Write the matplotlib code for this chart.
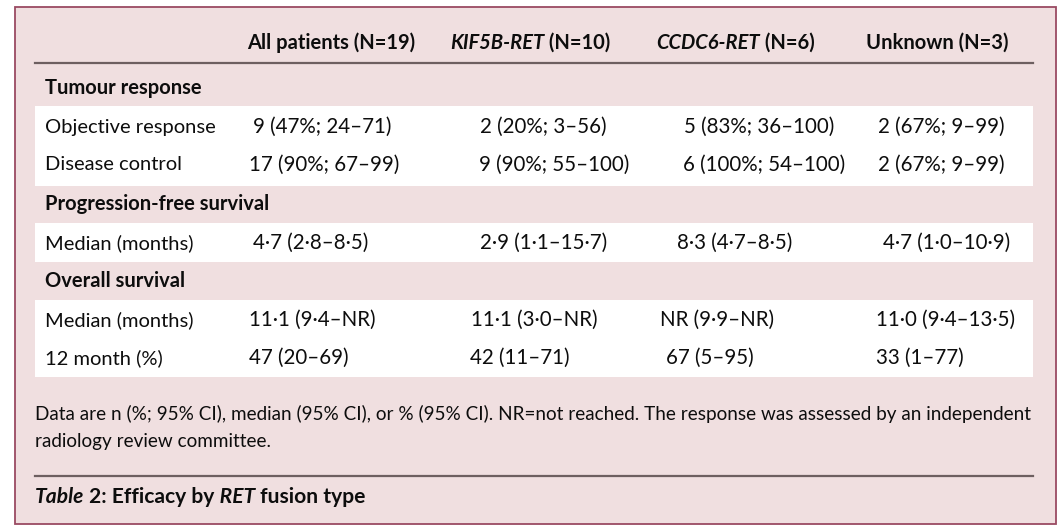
import matplotlib
matplotlib.use("Agg")
import matplotlib.pyplot as plt
from matplotlib.patches import Rectangle

# column headers: list of (text, style) runs
headers = [
    [("All patients (N=19)", "normal")],
    [("KIF5B-RET", "italic"), (" (N=10)", "normal")],
    [("CCDC6-RET", "italic"), (" (N=6)", "normal")],
    [("Unknown (N=3)", "normal")],
]

sections = ["Tumour response", "Progression-free survival", "Overall survival"]

row_labels = [
    "Objective response",
    "Disease control",
    "Median (months)",
    "Median (months)",
    "12 month (%)",
]

all_patients = ["9 (47%; 24–71)", "17 (90%; 67–99)", "4·7 (2·8–8·5)", "11·1 (9·4–NR)", "47 (20–69)"]
kif5b_ret = ["2 (20%; 3–56)", "9 (90%; 55–100)", "2·9 (1·1–15·7)", "11·1 (3·0–NR)", "42 (11–71)"]
ccdc6_ret = ["5 (83%; 36–100)", "6 (100%; 54–100)", "8·3 (4·7–8·5)", "NR (9·9–NR)", "67 (5–95)"]
unknown = ["2 (67%; 9–99)", "2 (67%; 9–99)", "4·7 (1·0–10·9)", "11·0 (9·4–13·5)", "33 (1–77)"]

footnote = ["Data are n (%; 95% CI), median (95% CI), or % (95% CI). NR=not reached. The response was assessed by an independent",
            "radiology review committee."]
caption = [("Table", "italic"), (" 2: Efficacy by", "normal"), (" RET", "italic"), (" fusion type", "normal")]

# layout (pixels)
W, H = 1063, 530
FONT = "Lato"
PINK = "#f0dfe0"
INK = "#0d0d0d"
header_x = [247, 450, 656, 866]
cell_x = [[253, 249, 253, 249, 249],
          [480, 479, 480, 471, 470],
          [684, 683, 677, 660, 666],
          [878, 878, 883, 876, 876]]
section_y = [88, 204, 281]
row_y = [127, 165, 243, 320, 358]
bands = [(106, 186), (223, 262), (300, 377)]
fs = 14.5

fig = plt.figure(figsize=(W / 100, H / 100), dpi=100)
ax = fig.add_axes([0, 0, 1, 1])
ax.set_xlim(0, W)
ax.set_ylim(H, 0)
ax.axis("off")
fig.patch.set_facecolor("white")

ax.add_patch(Rectangle((15, 7), 1041, 517, facecolor=PINK, edgecolor="#9a4a62", lw=1.3))
for y0, y1 in bands:
    ax.add_patch(Rectangle((35, y0), 998, y1 - y0, facecolor="white", edgecolor="none"))
ax.plot([35, 1033], [63, 63], color="#6d5f60", lw=1.6)
ax.plot([35, 1033], [476, 476], color="#6d5f60", lw=1.6)

renderer = fig.canvas.get_renderer()


def draw_runs(x, y, runs, size, weight):
    for txt, style in runs:
        t = ax.text(x, y, txt, fontsize=size, fontweight=weight, fontstyle=style,
                    family=FONT, color=INK, va="center", ha="left")
        bb = t.get_window_extent(renderer=renderer)
        x += bb.width


for hx, runs in zip(header_x, headers):
    draw_runs(hx, 43, runs, fs, "bold")

for sy, name in zip(section_y, sections):
    ax.text(45, sy, name, fontsize=fs, fontweight="bold", family=FONT, color=INK, va="center")

columns = [all_patients, kif5b_ret, ccdc6_ret, unknown]
for i, (ry, lab) in enumerate(zip(row_y, row_labels)):
    ax.text(45, ry, lab, fontsize=fs, family=FONT, color=INK, va="center")
    for c, col in enumerate(columns):
        ax.text(cell_x[c][i], ry, col[i], fontsize=14.8, family=FONT, color=INK, va="center")

for k, line in enumerate(footnote):
    ax.text(35, 414 + 28 * k, line, fontsize=13.6, family=FONT, color=INK, va="center")

draw_runs(35, 497, caption, 15.1, "bold")

fig.savefig("out.png", dpi=100, facecolor="white")
